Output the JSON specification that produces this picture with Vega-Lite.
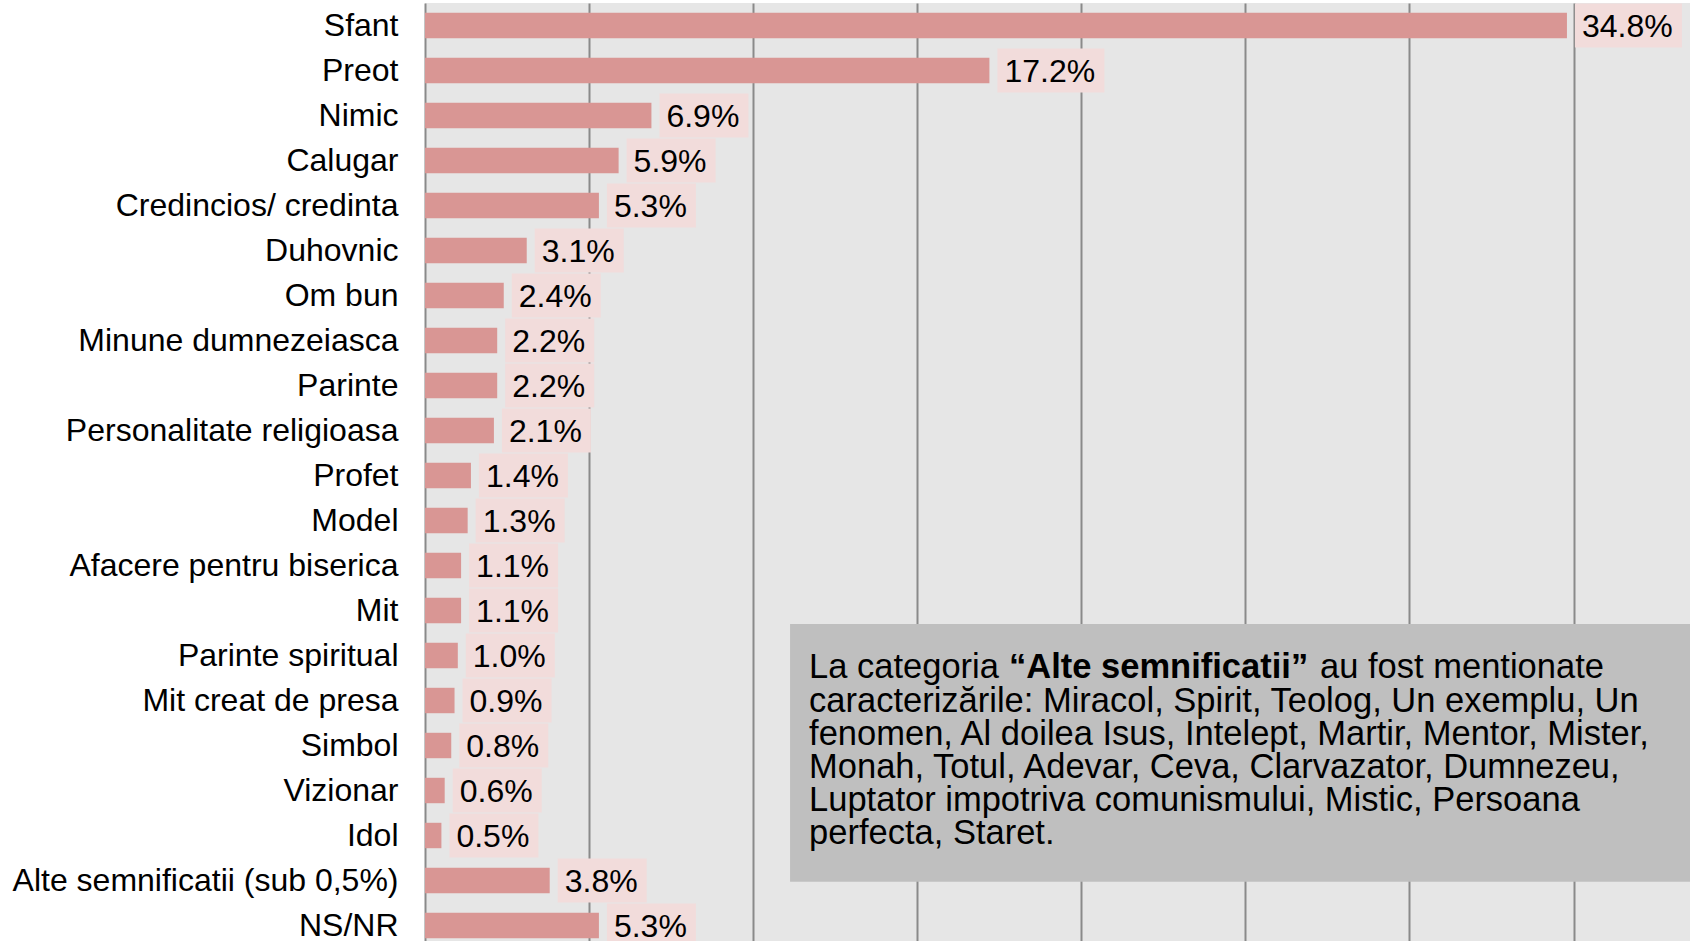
{
  "$schema": "https://vega.github.io/schema/vega-lite/v6.json",
  "width": 1265,
  "height": 945,
  "autosize": {"type": "none"},
  "padding": {"left": 425, "top": 3, "right": 0, "bottom": 0},
  "background": "#ffffff",
  "config": {
    "view": {"fill": "#e6e6e6", "stroke": null},
    "font": "Liberation Sans"
  },
  "datasets": {
    "bars": [
      {"cat": "Sfant", "value": 34.8},
      {"cat": "Preot", "value": 17.2},
      {"cat": "Nimic", "value": 6.9},
      {"cat": "Calugar", "value": 5.9},
      {"cat": "Credincios/ credinta", "value": 5.3},
      {"cat": "Duhovnic", "value": 3.1},
      {"cat": "Om bun", "value": 2.4},
      {"cat": "Minune dumnezeiasca", "value": 2.2},
      {"cat": "Parinte", "value": 2.2},
      {"cat": "Personalitate religioasa", "value": 2.1},
      {"cat": "Profet", "value": 1.4},
      {"cat": "Model", "value": 1.3},
      {"cat": "Afacere pentru biserica", "value": 1.1},
      {"cat": "Mit", "value": 1.1},
      {"cat": "Parinte spiritual", "value": 1.0},
      {"cat": "Mit creat de presa", "value": 0.9},
      {"cat": "Simbol", "value": 0.8},
      {"cat": "Vizionar", "value": 0.6},
      {"cat": "Idol", "value": 0.5},
      {"cat": "Alte semnificatii (sub 0,5%)", "value": 3.8},
      {"cat": "NS/NR", "value": 5.3}
    ],
    "note": [
      {
        "a": "La categoria",
        "b": "“Alte semnificatii”",
        "c": "au fost mentionate",
        "rest": [
          "caracterizările: Miracol, Spirit, Teolog, Un exemplu, Un",
          "fenomen, Al doilea Isus, Intelept, Martir, Mentor, Mister,",
          "Monah, Totul, Adevar, Ceva, Clarvazator, Dumnezeu,",
          "Luptator impotriva comunismului, Mistic, Persoana",
          "perfecta, Staret."
        ]
      }
    ]
  },
  "layer": [
    {
      "data": {"name": "bars"},
      "layer": [
        {
          "mark": {"type": "bar", "color": "#d99694", "height": {"band": 0.565}},
          "encoding": {
            "y": {
              "field": "cat", "type": "nominal", "sort": null, "title": null,
              "scale": {
                "domain": ["Sfant", "Preot", "Nimic", "Calugar", "Credincios/ credinta", "Duhovnic", "Om bun", "Minune dumnezeiasca", "Parinte", "Personalitate religioasa", "Profet", "Model", "Afacere pentru biserica", "Mit", "Parinte spiritual", "Mit creat de presa", "Simbol", "Vizionar", "Idol", "Alte semnificatii (sub 0,5%)", "NS/NR"],
                "paddingInner": 0, "paddingOuter": 0
              },
              "axis": {
                "labelFontSize": 32, "labelColor": "#000000", "labelFont": "Liberation Sans",
                "labelPadding": 27, "ticks": false, "tickSize": 0, "domain": false, "grid": false,
                "labelLimit": 600
              }
            },
            "x": {
              "field": "value", "type": "quantitative", "title": null,
              "scale": {"domain": [0, 38.55], "nice": false, "zero": true},
              "axis": {
                "values": [0, 5, 10, 15, 20, 25, 30, 35],
                "labels": false, "ticks": false, "domain": false,
                "grid": true, "gridColor": "#8a8a8a", "gridWidth": 2, "gridOpacity": 1
              }
            }
          }
        },
        {
          "transform": [{"filter": "datum.value < 10"}],
          "mark": {"type": "bar", "color": "#f2dcdb", "height": {"band": 0.978}, "xOffset": 8, "x2Offset": 97},
          "encoding": {
            "y": {"field": "cat", "type": "nominal", "sort": null, "title": null},
            "x": {"field": "value", "type": "quantitative", "title": null},
            "x2": {"field": "value"}
          }
        },
        {
          "transform": [{"filter": "datum.value >= 10"}],
          "mark": {"type": "bar", "color": "#f2dcdb", "height": {"band": 0.978}, "xOffset": 8, "x2Offset": 115},
          "encoding": {
            "y": {"field": "cat", "type": "nominal", "sort": null, "title": null},
            "x": {"field": "value", "type": "quantitative", "title": null},
            "x2": {"field": "value"}
          }
        },
        {
          "transform": [{"calculate": "format(datum.value, '.1f') + '%'", "as": "lbl"}],
          "mark": {"type": "text", "align": "left", "baseline": "middle", "dx": 15, "dy": 1, "fontSize": 32, "color": "#000000", "font": "Liberation Sans"},
          "encoding": {
            "y": {"field": "cat", "type": "nominal", "sort": null, "title": null},
            "x": {"field": "value", "type": "quantitative", "title": null},
            "text": {"field": "lbl"}
          }
        }
      ]
    },
    {
      "data": {"name": "note"},
      "layer": [
        {
          "mark": {"type": "rect", "color": "#bfbfbf"},
          "encoding": {
            "x": {"datum": 11.125, "type": "quantitative"},
            "x2": {"datum": 38.55},
            "y": {"datum": "Mit", "type": "nominal", "bandPosition": 0.8},
            "y2": {"datum": "Alte semnificatii (sub 0,5%)", "bandPosition": 0.53}
          }
        },
        {
          "mark": {"type": "text", "align": "left", "baseline": "alphabetic", "dx": 19, "fontSize": 34.5, "color": "#000000", "font": "Liberation Sans"},
          "encoding": {
            "x": {"datum": 11.125, "type": "quantitative"},
            "y": {"datum": "Parinte spiritual", "type": "nominal", "bandPosition": 1},
            "text": {"field": "a"}
          }
        },
        {
          "mark": {"type": "text", "align": "left", "baseline": "alphabetic", "dx": 219, "fontSize": 34.5, "fontWeight": "bold", "color": "#000000", "font": "Liberation Sans"},
          "encoding": {
            "x": {"datum": 11.125, "type": "quantitative"},
            "y": {"datum": "Parinte spiritual", "type": "nominal", "bandPosition": 1},
            "text": {"field": "b"}
          }
        },
        {
          "mark": {"type": "text", "align": "left", "baseline": "alphabetic", "dx": 530, "fontSize": 34.5, "color": "#000000", "font": "Liberation Sans"},
          "encoding": {
            "x": {"datum": 11.125, "type": "quantitative"},
            "y": {"datum": "Parinte spiritual", "type": "nominal", "bandPosition": 1},
            "text": {"field": "c"}
          }
        },
        {
          "mark": {"type": "text", "align": "left", "baseline": "alphabetic", "dx": 19, "dy": 33.5, "lineHeight": 33, "fontSize": 34.5, "color": "#000000", "font": "Liberation Sans"},
          "encoding": {
            "x": {"datum": 11.125, "type": "quantitative"},
            "y": {"datum": "Parinte spiritual", "type": "nominal", "bandPosition": 1},
            "text": {"field": "rest"}
          }
        }
      ]
    }
  ]
}
